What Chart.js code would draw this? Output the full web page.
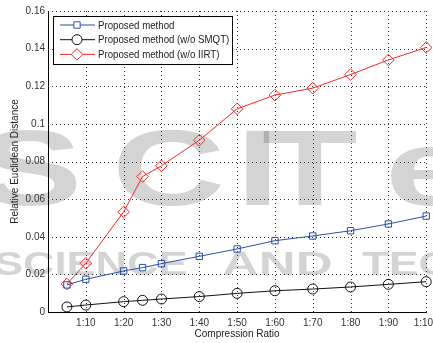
<!DOCTYPE html>
<html>
<head>
<meta charset="utf-8">
<script src="https://cdn.jsdelivr.net/npm/chart.js@4.4.0/dist/chart.umd.min.js"></script>
<style>
  html, body { margin: 0; padding: 0; background: #fff; }
  #wrap { width: 433px; height: 343px; position: relative; }
</style>
</head>
<body>
<div id="wrap"><canvas id="c"></canvas></div>
<script>
// ── Data ──────────────────────────────────────────────────────────────────────
const ratios      = [5, 10, 20, 25, 30, 40, 50, 60, 70, 80, 90, 100];
const proposed    = [0.0144, 0.0174, 0.0218, 0.0236, 0.0257, 0.0296, 0.0335, 0.0379, 0.0404, 0.0432, 0.0468, 0.0510];
const noSmqt      = [0.0027, 0.0037, 0.0055, 0.0062, 0.0069, 0.0082, 0.0099, 0.0113, 0.0122, 0.0133, 0.0147, 0.0161];
const noIirt      = [0.0149, 0.0259, 0.0532, 0.0720, 0.0777, 0.0913, 0.1080, 0.1153, 0.1190, 0.1262, 0.1340, 0.1406];
const xTicks      = [10, 20, 30, 40, 50, 60, 70, 80, 90, 100];
const xTickLabels = ['1:10', '1:20', '1:30', '1:40', '1:50', '1:60', '1:70', '1:80', '1:90', '1:100'];
const yTicks      = [0, 0.02, 0.04, 0.06, 0.08, 0.1, 0.12, 0.14, 0.16];
const yTickLabels = ['0', '0.02', '0.04', '0.06', '0.08', '0.1', '0.12', '0.14', '0.16'];
const seriesNames = ['Proposed method', 'Proposed method (w/o SMQT)', 'Proposed method (w/o IIRT)'];

const FONT = 'Liberation Sans, Arial, sans-serif';
const pts = arr => ratios.map((x, i) => ({ x, y: arr[i] }));

// grey publisher watermark behind everything
const watermark = {
    id: 'watermark',
    beforeDraw(chart) {
        const ctx = chart.ctx;
        const put = (txt, x, y, sx) => {
            ctx.save();
            ctx.translate(x, y);
            ctx.scale(sx, 1);
            ctx.fillText(txt, 0, 0);
            ctx.restore();
        };
        ctx.save();
        ctx.fillStyle = 'rgba(0,0,0,0.17)';
        ctx.textBaseline = 'alphabetic';
        ctx.font = 'bold 108px ' + FONT;
        [['S', -22], ['C', 112], ['I', 236], ['T', 262], ['e', 385]].forEach(([ch, x]) => put(ch, x, 205, 1.45));
        ctx.font = 'bold 34px ' + FONT;
        put('SCIENCE', -6, 275, 1.28);
        put('AND', 222, 275, 1.5);
        put('TECHNOLOGY', 362, 275, 1.3);
        ctx.restore();
    }
};

// dotted MATLAB grid, placed with the chart's own scales
const dottedGrid = {
    id: 'dottedGrid',
    beforeDatasetsDraw(chart) {
        const { ctx, chartArea: a, scales: { x, y } } = chart;
        ctx.save();
        ctx.strokeStyle = '#333';
        ctx.lineWidth = 1;
        ctx.setLineDash([1, 3]);
        xTicks.forEach(v => {
            const px = Math.round(x.getPixelForValue(v)) + 0.5;
            ctx.beginPath(); ctx.moveTo(px, a.bottom); ctx.lineTo(px, a.top); ctx.stroke();
        });
        yTicks.slice(1).forEach(v => {
            const py = Math.round(y.getPixelForValue(v)) + 0.5;
            ctx.beginPath(); ctx.moveTo(a.left, py); ctx.lineTo(a.right, py); ctx.stroke();
        });
        ctx.restore();
    }
};

// MATLAB style legend box in the upper left of the axes
const boxLegend = {
    id: 'boxLegend',
    afterDraw(chart) {
        const ctx = chart.ctx;
        const x0 = 53, y0 = 16, w = 179, h = 48;
        ctx.save();
        ctx.fillStyle = '#fff';
        ctx.fillRect(x0, y0, w, h);
        ctx.strokeStyle = '#000';
        ctx.lineWidth = 1;
        ctx.strokeRect(x0 + 0.5, y0 + 0.5, w, h);
        ctx.textBaseline = 'middle';
        chart.data.datasets.forEach((ds, i) => {
            const y = 25 + i * 14.7;
            ctx.strokeStyle = ds.borderColor;
            ctx.lineWidth = 1;
            ctx.beginPath();
            ctx.moveTo(60, y);
            ctx.lineTo(95, y);
            ctx.stroke();
            ctx.fillStyle = '#fff';
            Chart.helpers.drawPoint(ctx, {
                pointStyle: ds.pointStyle, radius: ds.pointRadius,
                borderWidth: 1
            }, 77, y);
            ctx.save();
            ctx.translate(98, y + 0.5);
            ctx.scale(0.88, 1);
            ctx.font = '11px ' + FONT;
            ctx.fillStyle = '#222';
            ctx.fillText(ds.label, 0, 0);
            ctx.restore();
        });
        ctx.restore();
    }
};

const mk = (label, data, color, style, r) => ({
    label, data: pts(data),
    borderColor: color, backgroundColor: 'rgba(0,0,0,0)',
    pointBorderColor: color, pointBackgroundColor: 'rgba(0,0,0,0)',
    borderWidth: 1, pointBorderWidth: 1,
    pointStyle: style, pointRadius: r, pointHoverRadius: r,
    tension: 0, clip: false
});

const hidden = 'rgba(0,0,0,0)';

new Chart(document.getElementById('c'), {
    type: 'line',
    data: {
        datasets: [
            mk(seriesNames[0], proposed, '#2f4fa2', 'rect', 4.5),
            mk(seriesNames[1], noSmqt, '#111', 'circle', 5),
            mk(seriesNames[2], noIirt, '#f42a2a', 'rectRot', 5.8)
        ]
    },
    options: {
        responsive: true, maintainAspectRatio: false, animation: false,
        layout: { padding: { top: 11, right: 5, left: 0, bottom: 0 } },
        plugins: { legend: { display: false }, tooltip: { enabled: false } },
        scales: {
            x: {
                type: 'linear', min: 0, max: 100,
                afterBuildTicks: s => { s.ticks = xTicks.map(v => ({ value: v })); },
                afterFit: s => { s.height = 31; s.paddingLeft = 0; s.paddingRight = 0; },
                ticks: {
                    color: '#333', font: { family: FONT, size: 10 }, padding: 5, maxRotation: 0,
                    callback: (v) => xTickLabels[xTicks.indexOf(v)]
                },
                grid: { color: hidden, drawTicks: false },
                border: { display: true, color: '#000', width: 1 },
                title: { display: true, text: 'Compression Ratio', color: '#222', font: { family: FONT, size: 10 }, padding: { top: 0, bottom: 3 } }
            },
            y: {
                min: 0, max: 0.16,
                afterBuildTicks: s => { s.ticks = yTicks.map(v => ({ value: v })); },
                afterFit: s => { s.width = 48; s.paddingTop = 0; s.paddingBottom = 0; },
                ticks: {
                    color: '#333', font: { family: FONT, size: 10 }, padding: 3,
                    callback: (v) => yTickLabels[yTicks.indexOf(v)]
                },
                grid: { color: hidden, drawTicks: false },
                border: { display: true, color: '#000', width: 1 },
                title: { display: true, text: 'Relative Euclidean Distance', color: '#222', font: { family: FONT, size: 10 }, padding: { top: 9, bottom: 0 } }
            }
        }
    },
    plugins: [watermark, dottedGrid, boxLegend]
});
</script>
</body>
</html>
